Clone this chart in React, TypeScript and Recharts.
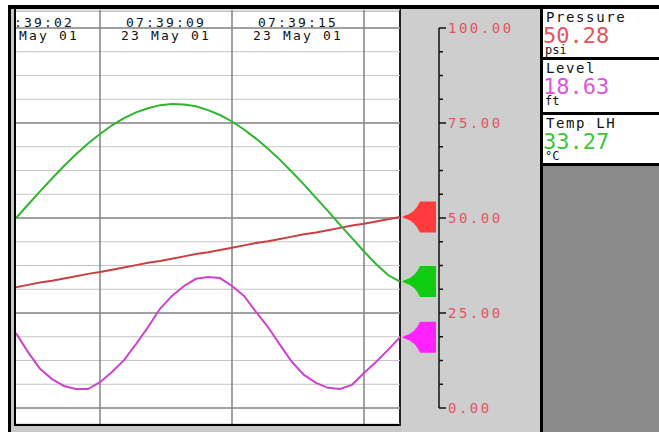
import React from 'react';
import { LineChart, Line, XAxis, YAxis, CartesianGrid, ReferenceLine } from 'recharts';

// header labels, centred between the vertical grid lines
const timeLabels = ['07:39:02', '07:39:09', '07:39:15'];
const dateLabels = ['23 May 01', '23 May 01', '23 May 01'];
const labelPos = [1.5, 12.5, 23.5];
const vGrid = [7, 18, 29];

// right-hand scale
const scaleTicks = [0, 6.25, 12.5, 18.75, 25, 31.25, 37.5, 43.75, 50, 56.25, 62.5, 68.75, 75, 81.25, 87.5, 93.75, 100];
const majorTicks = [0, 25, 50, 75, 100];

// samples
const pressure = [31.8, 32.4, 33.0, 33.5, 34.1, 34.7, 35.3, 35.8, 36.4, 37.0, 37.6, 38.2, 38.7, 39.3, 39.9, 40.5, 41.0, 41.6, 42.2, 42.8, 43.4, 43.9, 44.5, 45.1, 45.7, 46.2, 46.8, 47.4, 48.0, 48.5, 49.1, 49.7, 50.28];
const level = [19.7, 14.7, 10.3, 7.6, 5.8, 5.0, 5.0, 6.8, 9.5, 12.6, 16.8, 21.3, 26.1, 29.5, 32.1, 34.0, 34.5, 34.2, 32.1, 29.5, 25.3, 21.3, 16.6, 12.1, 8.7, 6.6, 5.3, 5.0, 6.1, 9.2, 12.1, 15.3, 18.63];
const tempLH = [50.0, 53.5, 57.0, 60.4, 63.7, 66.8, 69.6, 72.1, 74.4, 76.3, 77.8, 78.9, 79.7, 80.0, 79.9, 79.4, 78.4, 77.1, 75.4, 73.3, 70.9, 68.2, 65.3, 62.1, 58.8, 55.3, 51.8, 48.2, 44.7, 41.2, 37.9, 35.0, 33.27];

const panelNames = ['Pressure', 'Level', 'Temp LH'];
const panelUnits = ['psi', 'ft', '°C'];

const RED = '#e2545e';
const Y_MIN = -4.21;
const Y_MAX = 104.74;
const PLOT_W = 384;
const PLOT_H = 414;
const AXIS_X = 423; // chart coords (page x 439)
const MONO = '"DejaVu Sans Mono", monospace';

const data = pressure.map((p, i) => ({ t: i, pressure: p, level: level[i], temp: tempLH[i] }));

function TimeTick(props: any) {
  const { x, payload } = props;
  const i = labelPos.indexOf(payload.value);
  return (
    <g>
      <defs>
        <clipPath id={`hdr-${i}`}>
          <rect x={0} y={0} width={PLOT_W} height={60} />
        </clipPath>
      </defs>
      <g clipPath={`url(#hdr-${i})`} fontFamily={MONO} fontSize={13} fill="#111" letterSpacing={2.2}>
        <text x={x} y={18} textAnchor="middle">{timeLabels[i]}</text>
        <text x={x} y={30.5} textAnchor="middle">{dateLabels[i]}</text>
      </g>
    </g>
  );
}

function ScaleTick(props: any) {
  const { y, payload } = props;
  const v = payload.value;
  const major = majorTicks.includes(v);
  const step = (6.25 * PLOT_H) / (Y_MAX - Y_MIN);
  return (
    <g>
      {v < 100 && <line x1={AXIS_X} x2={AXIS_X} y1={y} y2={y - step} stroke="#111" strokeWidth={1.5} />}
      <line x1={AXIS_X} x2={AXIS_X + (major ? 7 : 4)} y1={y} y2={y} stroke="#111" strokeWidth={1.5} />
      {major && (
        <text x={AXIS_X + 9} y={y + 5} fontFamily={MONO} fontSize={14} letterSpacing={2.5} fill={RED}>
          {v.toFixed(2)}
        </text>
      )}
    </g>
  );
}

// pointer marker drawn at the last sample of each trace
const pointer = (color: string) => (props: any) => {
  const { cx, cy, index } = props;
  if (index !== data.length - 1) return <g key={`d-${index}`} />;
  const d = `M${cx + 2},${cy} L${cx + 5},${cy - 1.5} Q${cx + 15},${cy - 4} ${cx + 20},${cy - 15.5} L${cx + 36},${cy - 15.5} L${cx + 36},${cy + 15.5} L${cx + 20},${cy + 15.5} Q${cx + 15},${cy + 4} ${cx + 5},${cy + 1.5} Z`;
  return <path key={`d-${index}`} d={d} fill={color} />;
};

const box = (left: number, top: number, width: number, height: number, background: string): React.CSSProperties => ({
  position: 'absolute', left, top, width, height, background,
});

const txt = (top: number, left: number, fontSize: number, color: string, extra: React.CSSProperties = {}): React.CSSProperties => ({
  position: 'absolute', top, left, fontSize, color, lineHeight: 0.75, whiteSpace: 'nowrap', ...extra,
});

export default function App() {
  const values = [pressure, level, tempLH].map((s) => s[s.length - 1].toFixed(2));
  const valueColors = [RED, '#dd55dd', '#3cc63c'];
  const boxTops = [9, 60, 115];
  const boxHeights = [48, 52, 48];
  return (
    <div style={{ position: 'absolute', left: 0, top: 0, width: 659, height: 432, background: '#fff', overflow: 'hidden' }}>
      <div style={box(8, 5, 651, 4, '#000')} />
      <div style={box(8, 5, 3, 427, '#000')} />
      <div style={box(11, 9, 4, 423, '#c4c4c4')} />
      <div style={box(11, 426, 529, 6, '#c8c8c8')} />
      <div style={box(16, 9, 384, 415, '#fff')} />
      <div style={box(16, 11, 384, 1, '#c4c4c4')} />
      <div style={box(14, 9, 2, 417, '#000')} />
      <div style={box(14, 424, 387, 2, '#000')} />
      <div style={box(401, 9, 139, 423, '#cecece')} />
      <div style={box(399, 9, 2, 417, '#222')} />
      <div style={box(540, 5, 3, 427, '#000')} />
      <div style={box(543, 9, 116, 423, '#8a8a8a')} />
      {boxTops.map((t, i) => (
        <div key={i} style={box(543, t, 116, boxHeights[i], '#fff')} />
      ))}
      <div style={box(543, 57, 116, 3, '#000')} />
      <div style={box(543, 112, 116, 3, '#000')} />
      <div style={box(543, 163, 116, 3, '#000')} />
      {boxTops.map((t, i) => (
        <div key={`t${i}`} style={{ position: 'absolute', left: 543, top: t, fontFamily: MONO }}>
          <div style={txt(3, 3, 14, '#111', { letterSpacing: 1.6 })}>{panelNames[i]}</div>
          <div style={txt(19, 0, 22, valueColors[i])}>{values[i]}</div>
          <div style={txt(37, 2, 12, '#111')}>{panelUnits[i]}</div>
        </div>
      ))}

      <div style={{ position: 'absolute', left: 16, top: 9 }}>
        <LineChart width={524} height={PLOT_H + 1} data={data} margin={{ top: 0, right: 0, bottom: 0, left: 0 }}>
          <CartesianGrid vertical={false} stroke="#c4c4c4" strokeWidth={1.2} />
          <XAxis
            dataKey="t"
            type="number"
            domain={[0, 32]}
            orientation="top"
            height={1}
            ticks={labelPos}
            interval={0}
            axisLine={false}
            tickLine={false}
            tick={<TimeTick />}
          />
          <YAxis
            orientation="right"
            width={140}
            type="number"
            domain={[Y_MIN, Y_MAX]}
            ticks={scaleTicks}
            interval={0}
            axisLine={false}
            tickLine={false}
            tickSize={0}
            tick={<ScaleTick />}
          />
          {vGrid.map((x) => (
            <ReferenceLine key={`v${x}`} x={x} stroke="#7a7a7a" strokeWidth={1.4} />
          ))}
          {majorTicks.map((y) => (
            <ReferenceLine key={`h${y}`} y={y} stroke="#8a8a8a" strokeWidth={1.4} />
          ))}
          <Line dataKey="pressure" type="linear" stroke="#c84040" strokeWidth={2} dot={pointer('#ff3b3b')} activeDot={false} isAnimationActive={false} />
          <Line dataKey="temp" type="linear" stroke="#2fb52f" strokeWidth={2} dot={pointer('#10cc10')} activeDot={false} isAnimationActive={false} />
          <Line dataKey="level" type="linear" stroke="#cc44cc" strokeWidth={2} dot={pointer('#ff22ff')} activeDot={false} isAnimationActive={false} />
        </LineChart>
      </div>
    </div>
  );
}
